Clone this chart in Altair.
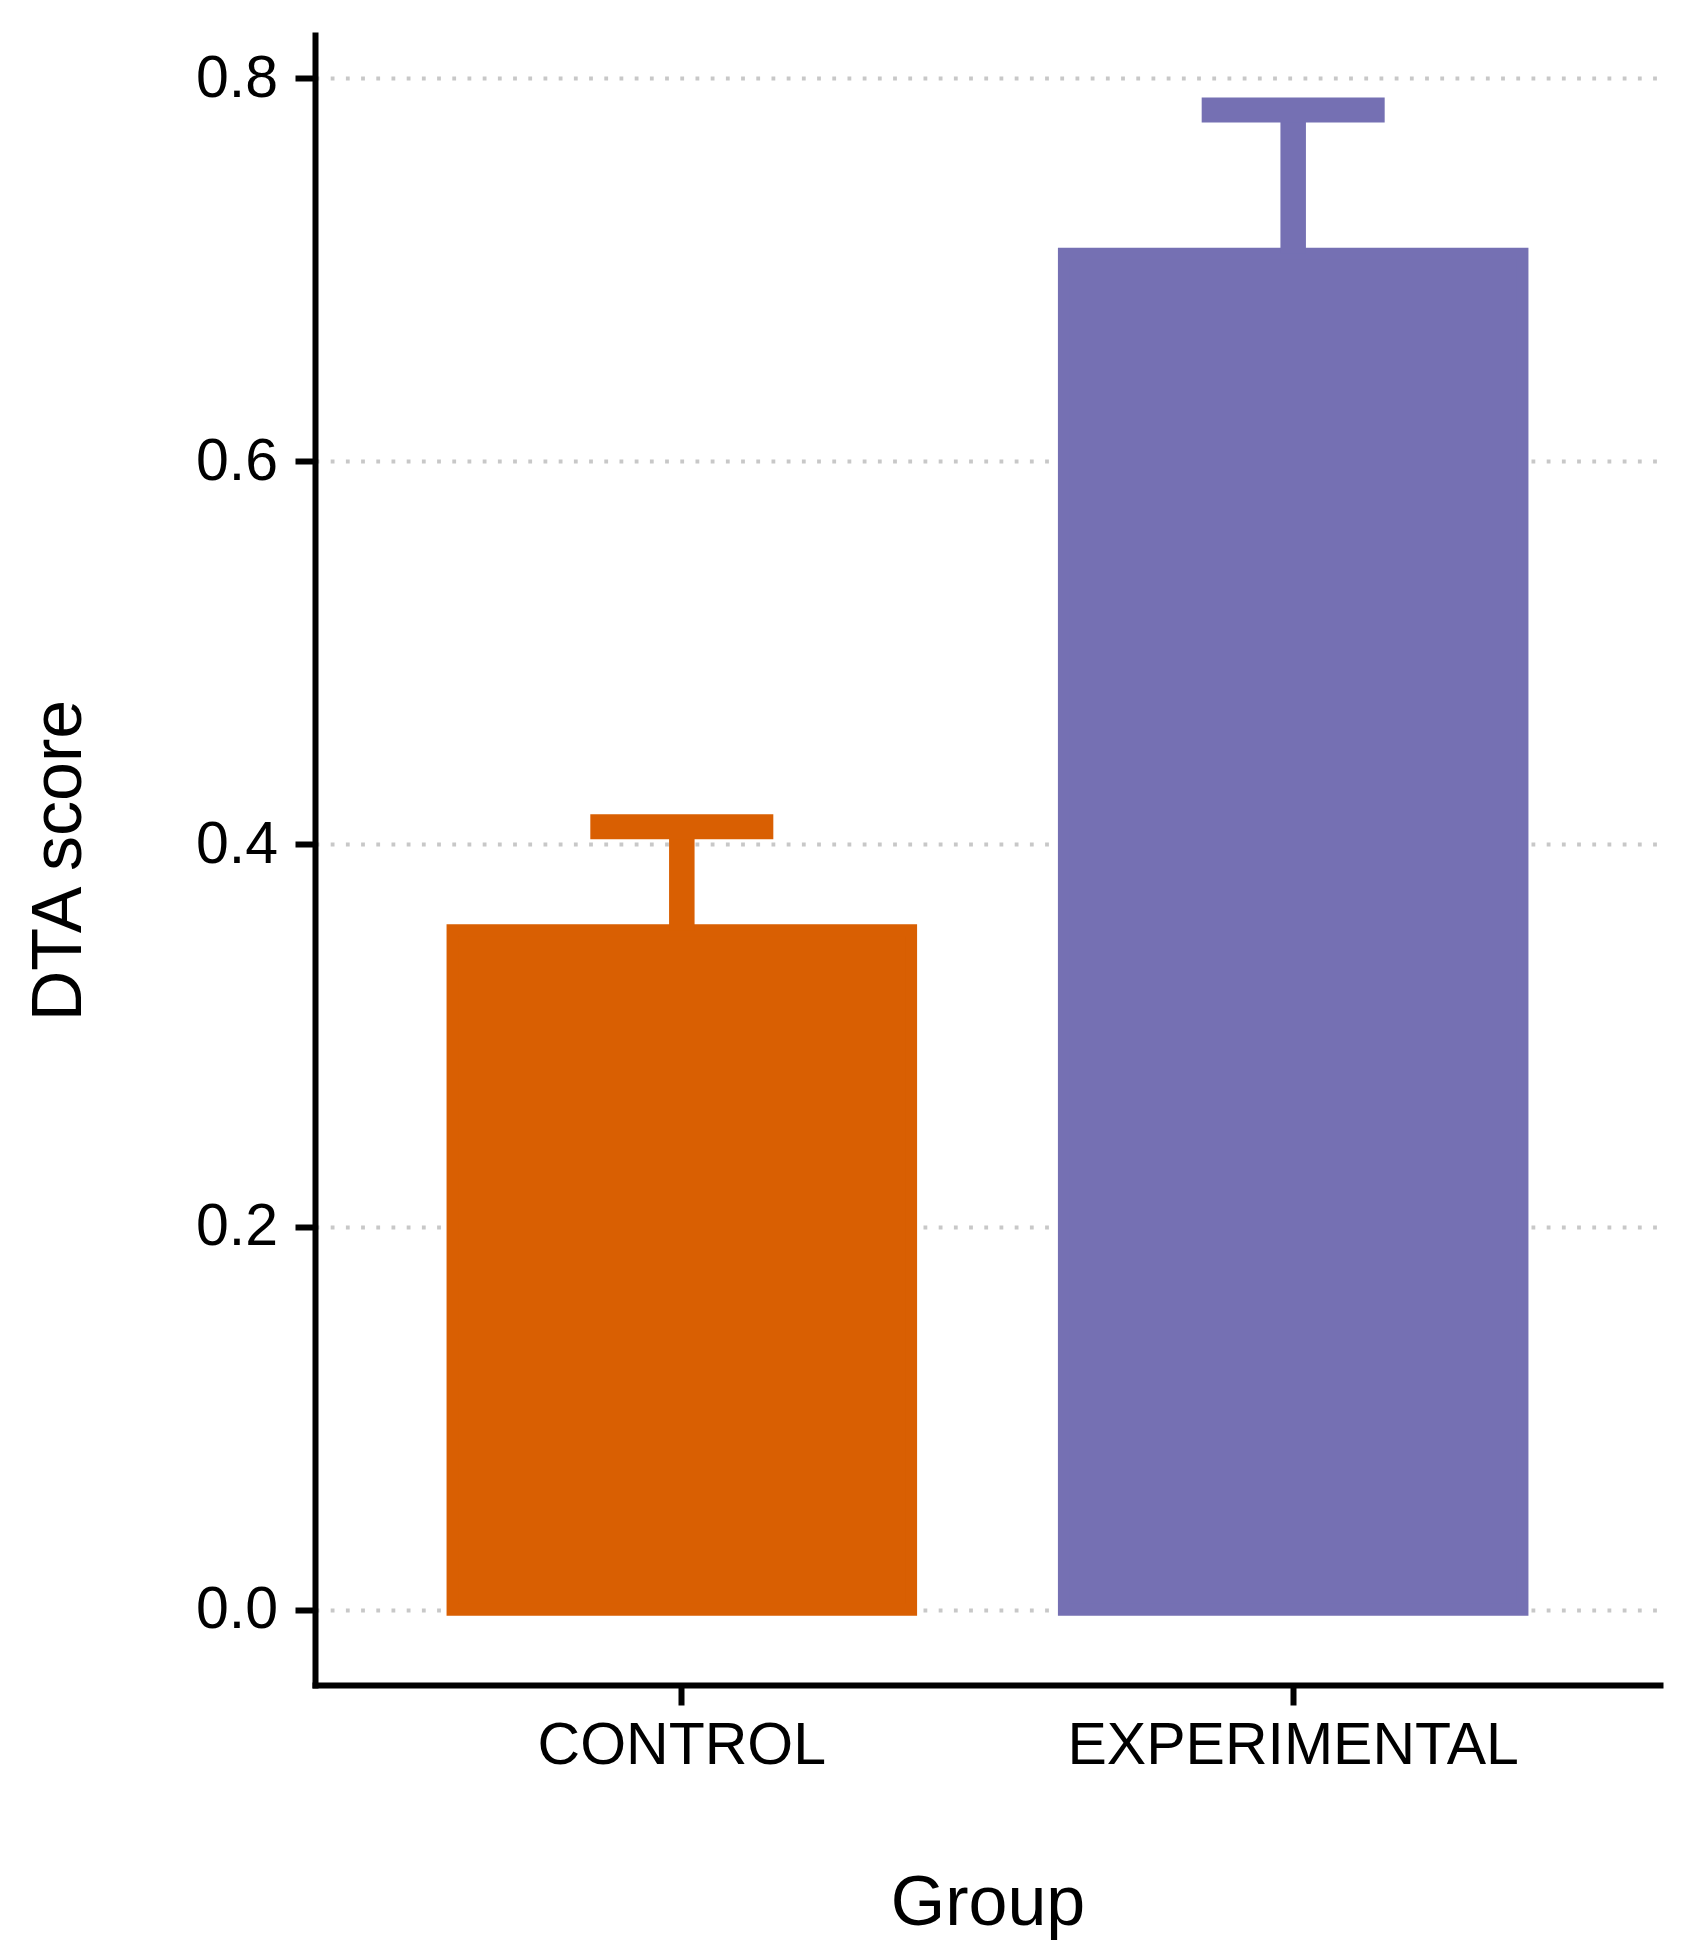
import altair as alt
import pandas as pd

groups = ["CONTROL", "EXPERIMENTAL"]
means = [0.355, 0.7084]
upper = [0.409, 0.7835]
colors = ["#D95F02", "#7570B3"]

df = pd.DataFrame({"Group": groups, "mean": means, "ymax": upper})

FONT = "Liberation Sans, Arial, Helvetica, sans-serif"
W, H = 1345, 1650

x_enc = alt.X(
    "Group:N",
    sort=groups,
    scale=alt.Scale(paddingInner=0.25, paddingOuter=0.225),
    axis=alt.Axis(
        title="Group",
        labelAngle=0,
        labelFontSize=59,
        labelLimit=0,
        labelPadding=58.5,
        labelBaseline="alphabetic",
        tickSize=20,
        grid=False,
        titleFontSize=70,
        titleX=W / 2,
        titleY=239.5,
        titleBaseline="alphabetic",
        titleAlign="center",
    ),
)

y_scale = alt.Scale(domain=[-0.03929, 0.82263], nice=False, zero=False)

color_scale = alt.Scale(domain=groups, range=colors)
color_enc = alt.Color("Group:N", scale=color_scale, legend=None)
stroke_enc = alt.Stroke("Group:N", scale=color_scale, legend=None)

bars = alt.Chart(df).mark_bar(opacity=1, strokeWidth=12, strokeJoin="miter").encode(
    x=x_enc,
    y=alt.Y(
        "mean:Q",
        scale=y_scale,
        axis=alt.Axis(
            title="DTA score",
            values=[0, 0.2, 0.4, 0.6, 0.8],
            format=".1f",
            labelFontSize=59,
            labelPadding=17.5,
            tickSize=20,
            grid=True,
            gridDash=[3.8, 11.4],
            gridWidth=3.8,
            gridColor="#c8c8c8",
            titleFontSize=70,
            titleX=-235,
            titleY=H / 2,
            titleAngle=270,
            titleBaseline="alphabetic",
            titleAlign="center",
        ),
    ),
    y2=alt.datum(0),
    color=color_enc,
    stroke=stroke_enc,
)

stems = alt.Chart(df).mark_rule(strokeWidth=25.5, strokeCap="butt", opacity=1).encode(
    x=alt.X("Group:N", sort=groups),
    y=alt.Y("mean:Q", scale=y_scale),
    y2="ymax:Q",
    color=color_enc,
)

caps = alt.Chart(df).mark_tick(size=183, thickness=25, orient="horizontal", opacity=1).encode(
    x=alt.X("Group:N", sort=groups),
    y=alt.Y("ymax:Q", scale=y_scale),
    color=color_enc,
)

chart = (
    alt.layer(bars, stems, caps)
    .properties(
        width=W,
        height=H,
        autosize=alt.AutoSizeParams(type="none"),
        padding={"left": 307, "top": 27, "right": 23, "bottom": 272},
        background="white",
    )
    .configure_view(strokeWidth=0)
    .configure_axis(
        labelFont=FONT,
        titleFont=FONT,
        labelColor="black",
        titleColor="black",
        titleFontWeight="normal",
        domainColor="black",
        domainWidth=6,
        domainCap="square",
        tickColor="black",
        tickWidth=6,
    )
)

chart.save("out.html", embed_options={"renderer": "svg", "actions": False})
